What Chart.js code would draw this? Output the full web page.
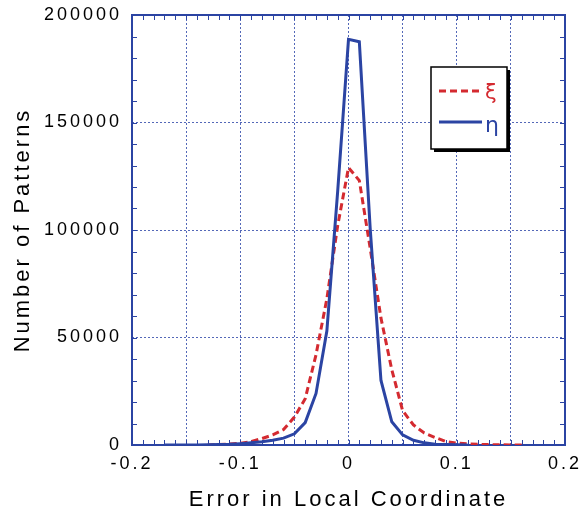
<!DOCTYPE html>
<html><head><meta charset="utf-8">
<script src="https://cdn.jsdelivr.net/npm/chart.js@4/dist/chart.umd.min.js"></script>
<style>html,body{margin:0;padding:0;background:#fff}canvas{display:block}</style>
</head><body>
<canvas id="c" width="579" height="516"></canvas>
<script>
// ---- data ----
const errorValues = [-0.17,-0.16,-0.15,-0.14,-0.13,-0.12,-0.11,-0.10,-0.09,-0.08,-0.07,-0.06,-0.05,-0.04,-0.03,-0.02,-0.01,0,
                     0.01,0.02,0.03,0.04,0.05,0.06,0.07,0.08,0.09,0.10,0.11,0.12,0.13,0.14,0.15,0.16];
const xiCounts  = [null,null,null,null,0,200,400,800,1600,3000,4700,7200,13000,21500,42000,68000,102000,129000,
                   123000,91600,59000,35000,16000,9300,5600,3500,1600,900,500,300,200,100,50,0];
const etaCounts = [0,0,0,0,100,200,300,600,1000,1500,2200,3200,5200,10400,24000,53000,118000,188700,
                   187600,101000,30000,10800,4700,2200,1000,400,200,100,0,null,null,null,null,null];
const seriesLabels = ['ξ','η'];
const xTickLabels = ['-0.2','-0.1','0','0.1','0.2'];
const yTickLabels = ['0','50000','100000','150000','200000'];
const xAxisTitle = 'Error in Local Coordinate';
const yAxisTitle = 'Number of Patterns';

const BLUE = '#2b44a3', RED = '#d42a30', GRID = '#5468b8';
const FONT = "'Liberation Sans', Arial, Helvetica, sans-serif";

function toPoints(vals){
  const pts = [];
  errorValues.forEach((x,i)=>{ if (vals[i] !== null) pts.push({x:x, y:vals[i]}); });
  return pts;
}
function near(a,b){ return Math.abs(a-b) < 1e-6; }

const decor = {
  id: 'decor',
  beforeUpdate(chart){ chart.ctx.letterSpacing = '3px'; },
  beforeDraw(chart){ chart.ctx.letterSpacing = '3px'; },
  beforeDatasetsDraw(chart){
    const {ctx, chartArea:a, scales:{x, y}} = chart;
    ctx.save();
    ctx.strokeStyle = BLUE; ctx.lineWidth = 1;
    ctx.beginPath();
    x.ticks.forEach(t=>{
      const px = Math.round(x.getPixelForValue(t.value)) + 0.5;
      ctx.moveTo(px, a.bottom); ctx.lineTo(px, a.bottom - 5);
      ctx.moveTo(px, a.top);    ctx.lineTo(px, a.top + 5);
    });
    y.ticks.forEach(t=>{
      const py = Math.round(y.getPixelForValue(t.value)) + 0.5;
      ctx.moveTo(a.left, py);  ctx.lineTo(a.left + 5, py);
      ctx.moveTo(a.right, py); ctx.lineTo(a.right - 5, py);
    });
    ctx.stroke();
    ctx.lineWidth = 2;
    ctx.strokeRect(a.left, a.top, a.right - a.left, a.bottom - a.top);
    ctx.restore();
  },
  afterDraw(chart){
    const ctx = chart.ctx;
    ctx.save();
    ctx.letterSpacing = '0px';
    const lx = 431, ly = 67, lw = 76, lh = 82;
    ctx.fillStyle = '#000'; ctx.fillRect(lx + 3, ly + 3, lw, lh);
    ctx.fillStyle = '#fff'; ctx.fillRect(lx, ly, lw, lh);
    ctx.strokeStyle = '#000'; ctx.lineWidth = 1.5; ctx.strokeRect(lx, ly, lw, lh);
    const rows = [{y: 91, ty: 99, size: 21}, {y: 122, ty: 132, size: 22}];
    chart.data.datasets.forEach((ds, i)=>{
      const r = rows[i];
      ctx.beginPath();
      ctx.strokeStyle = ds.borderColor; ctx.lineWidth = 3;
      ctx.setLineDash(ds.borderDash || []);
      ctx.moveTo(439, r.y); ctx.lineTo(482, r.y); ctx.stroke();
      ctx.setLineDash([]);
      ctx.fillStyle = ds.borderColor;
      ctx.font = r.size + "px 'DejaVu Sans', " + FONT;
      ctx.textBaseline = 'alphabetic'; ctx.textAlign = 'left';
      ctx.fillText(ds.label, 485, r.ty);
    });
    ctx.restore();
  }
};

new Chart(document.getElementById('c'), {
  type: 'line',
  data: {
    datasets: [
      {label: seriesLabels[0], data: toPoints(xiCounts), borderColor: RED, borderWidth: 3,
       borderDash: [7,4], pointRadius: 0, fill: false, tension: 0, order: 1},
      {label: seriesLabels[1], data: toPoints(etaCounts), borderColor: BLUE, borderWidth: 3,
       pointRadius: 0, fill: false, tension: 0, order: 0}
    ]
  },
  options: {
    responsive: false, animation: false,
    layout: {padding: {top: 15, right: 14, left: 0, bottom: 0}},
    plugins: {legend: {display: false}, tooltip: {enabled: false}},
    scales: {
      x: {
        type: 'linear', min: -0.2, max: 0.2,
        afterFit(s){ s.height = 71; s.paddingLeft = 0; s.paddingRight = 0; },
        grid: {drawTicks: false, lineWidth: 1,
               color: c => { const v = c.tick ? c.tick.value : 0;
                 return (near(Math.round(v*20), v*20) && !near(Math.abs(v), 0.2)) ? GRID : 'rgba(0,0,0,0)'; }},
        border: {display: false, dash: [2,2]},
        ticks: {stepSize: 0.01, autoSkip: false, maxRotation: 0, padding: 8, color: '#000',
                font: {family: FONT, size: 18},
                callback: v => { const l = xTickLabels.find(t => near(parseFloat(t), v)); return l === undefined ? '' : l; }},
        title: {display: true, text: xAxisTitle, color: '#000', font: {family: FONT, size: 22, lineHeight: 1},
                padding: {top: 0, bottom: 5}}
      },
      y: {
        type: 'linear', min: 0, max: 200000,
        afterFit(s){ s.width = 132; s.paddingTop = 0; s.paddingBottom = 0; },
        grid: {drawTicks: false, lineWidth: 1,
               color: c => { const v = c.tick ? c.tick.value : 0;
                 return (v % 50000 === 0 && v !== 0 && v !== 200000) ? GRID : 'rgba(0,0,0,0)'; }},
        border: {display: false, dash: [2,2]},
        ticks: {stepSize: 10000, autoSkip: false, padding: 10, color: '#000',
                font: {family: FONT, size: 18},
                callback: v => { const l = yTickLabels.find(t => parseFloat(t) === v); return l === undefined ? '' : l; }},
        title: {display: true, text: yAxisTitle, color: '#000', font: {family: FONT, size: 22, lineHeight: 1},
                padding: {top: 12, bottom: 0}}
      }
    }
  },
  plugins: [decor]
});
</script>
</body></html>
